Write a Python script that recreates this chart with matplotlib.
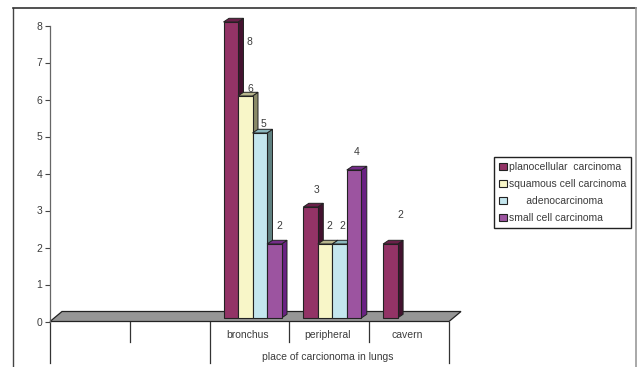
import numpy as np
import matplotlib
matplotlib.use("Agg")
import matplotlib.pyplot as plt
from matplotlib.patches import Polygon, Patch

plt.rcParams['font.family'] = ['Liberation Sans', 'DejaVu Sans']

categories = ["", "", "bronchus", "peripheral", "cavern"]
axis_title = "place of carcionoma in lungs"
series_names = ["planocellular  carcinoma", "squamous cell carcinoma",
                "      adenocarcinoma", "small cell carcinoma"]
planocellular = [0, 0, 8, 3, 2]
squamous = [0, 0, 6, 2, 0]
adeno = [0, 0, 5, 2, 0]
small_cell = [0, 0, 2, 4, 0]

front_colors = ["#933366", "#f8f6c8", "#c4e6ee", "#9c54a0"]
top_colors = ["#6a2049", "#b8b68e", "#8cb8bf", "#742c88"]
side_colors = ["#43122f", "#8a8a68", "#5f8080", "#6a2184"]
edge = "#222222"
text_color = "#3c3c3c"
font_size = 7.45

W, H = 637, 367
fig = plt.figure(figsize=(W / 100, H / 100), dpi=100)

# plot area: category slots 80 px wide, 37 px per unit
left, right, y0, y8 = 50, 449, 321.5, 25.5
ax = fig.add_axes([left / W, 1 - y0 / H, (right - left) / W, (y0 - y8) / H])
ax.set_xlim(0, 5)
ax.set_ylim(0, 8)
ax.patch.set_alpha(0)
for s in ["top", "right", "bottom"]:
    ax.spines[s].set_visible(False)
ax.spines["left"].set_color("#666666")
ax.spines["left"].set_linewidth(0.9)
ax.set_xticks([])
ax.set_yticks(range(9))
ax.tick_params(axis="y", length=3.5, width=0.8, color="#444444", labelsize=font_size,
               labelcolor=text_color, pad=2)

px_x = 5 / (right - left)
px_y = 8 / (y0 - y8)
bar_w = 14.5 * px_x
depth_x, depth_y = 5.5 * px_x, 3.7 * px_y
base_x, base_y = 3 * px_x, 3.5 * px_y

# grey floor in front of the category axis
floor_x, floor_y = 12 * px_x, 10 * px_y
ax.add_patch(Polygon([(0, 0), (5, 0), (5 + floor_x, floor_y), (floor_x, floor_y)],
                     closed=True, fc="#969696", ec="#222222", lw=0.9, clip_on=False,
                     zorder=1))

series = [planocellular, squamous, adeno, small_cell]
for i, values in enumerate(series):
    xs = np.arange(len(values)) + 0.5 + base_x + (i - 2) * bar_w
    bars = ax.bar(xs, values, width=bar_w, bottom=base_y, align="edge",
                  color=front_colors[i], edgecolor=edge, linewidth=0.8,
                  zorder=4 + i * 2, clip_on=False)
    for x, v, b in zip(xs, values, bars):
        if v == 0:
            b.set_visible(False)
            continue
        t = v + base_y
        ax.add_patch(Polygon([(x + bar_w, base_y), (x + bar_w + depth_x, base_y + depth_y),
                              (x + bar_w + depth_x, t + depth_y), (x + bar_w, t)],
                             closed=True, fc=side_colors[i], ec=edge, lw=0.7,
                             zorder=3 + i * 2, clip_on=False))
        ax.add_patch(Polygon([(x, t), (x + depth_x, t + depth_y),
                              (x + bar_w + depth_x, t + depth_y), (x + bar_w, t)],
                             closed=True, fc=top_colors[i], ec=edge, lw=0.7,
                             zorder=3 + i * 2, clip_on=False))

# value labels sit at hand-placed offsets from the bar tops
label_offsets = {
    (0, 2): (19, -20), (1, 2): (5, 7), (2, 2): (4, 9), (3, 2): (5, 18),
    (0, 3): (6, 17), (1, 3): (4, 18), (2, 3): (3, 18), (3, 3): (3, 18),
    (0, 4): (10, 29),
}
for (i, c), (dx, dy) in label_offsets.items():
    x = c + 0.5 + base_x + (i - 2) * bar_w + bar_w / 2
    v = series[i][c]
    ax.annotate(str(v), (x, v + base_y), xytext=(dx * 0.72, dy * 0.72),
                textcoords="offset points", ha="center", va="center",
                fontsize=font_size, color=text_color, zorder=20, annotation_clip=False)

# multi-level category axis below the floor
short_drop, long_drop = 20 * px_y, 41.5 * px_y
for i in range(6):
    drop = long_drop if i in (0, 2, 5) else short_drop
    ax.plot([i, i], [0, -drop], color="#333333", lw=0.9, clip_on=False, zorder=2)
ax.plot([0, 5], [0, 0], color="#222222", lw=1.0, zorder=2)
for i, name in enumerate(categories):
    ax.text(i + 0.5 - 1.5 * px_x, -13 * px_y, name, ha="center", va="center",
            fontsize=font_size, color=text_color, clip_on=False)
ax.text(3.48, -36 * px_y, axis_title, ha="center", va="center",
        fontsize=font_size, color=text_color, clip_on=False)

handles = [Patch(facecolor=c, edgecolor=edge, linewidth=0.8) for c in front_colors]
leg = ax.legend(handles, series_names, loc="upper left",
                bbox_to_anchor=((494 - left) * px_x, (y0 - 157) * px_y),
                bbox_transform=ax.transData,
                fontsize=font_size, frameon=True, fancybox=False, framealpha=1,
                edgecolor="#222222", alignment="left",
                handlelength=0.72, handleheight=0.72, handletextpad=0.2, labelspacing=0.68,
                borderpad=0.5, borderaxespad=0, labelcolor=text_color)
leg.set_zorder(30)
leg.get_frame().set_linewidth(1.0)

# outer chart frame, drawn over the full figure
frame = fig.add_axes([0, 0, 1, 1], zorder=-1)
frame.set_xlim(0, W)
frame.set_ylim(H, 0)
frame.axis("off")
frame.plot([13, 13], [H, 7.5], color="#444444", lw=1.0)
frame.plot([13, 636], [7.5, 7.5], color="#333333", lw=1.2)
frame.plot([636, 636], [7.5, H], color="#999999", lw=1.2)

fig.savefig("out.png", dpi=100)
